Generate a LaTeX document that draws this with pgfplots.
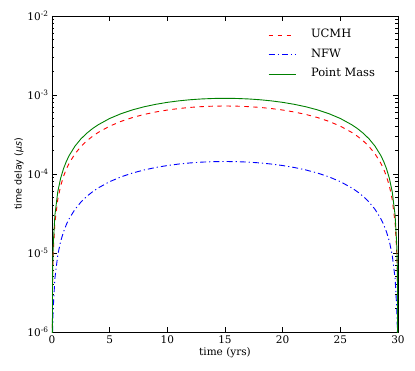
\documentclass[border=0pt]{standalone}
\usepackage{fontspec}
\setmainfont{DejaVu Serif}
\setsansfont{DejaVu Sans}
\usepackage{pgfplots}
\usepackage{pgfplotstable}
\pgfplotsset{compat=1.18}
\pgfplotstableread{
t pm ucmh nfw
0 1e-8 1e-8 1e-8
0.05 6.043e-6 4.832e-6 9.58e-7
0.1 1.207e-5 9.648e-6 1.914e-6
0.25 3.001e-5 2.400e-5 4.760e-6
0.5 5.952e-5 4.759e-5 9.440e-6
0.75 8.853e-5 7.079e-5 1.404e-5
1 1.1703e-4 9.357e-5 1.856e-5
1.25 1.4503e-4 1.1596e-4 2.300e-5
1.5 1.7252e-4 1.3794e-4 2.736e-5
2 2.2599e-4 1.8069e-4 3.584e-5
2.5 2.7744e-4 2.2183e-4 4.400e-5
3 3.2688e-4 2.6136e-4 5.184e-5
3.5 3.7430e-4 2.9927e-4 5.936e-5
4 4.1970e-4 3.3557e-4 6.656e-5
5 5.0444e-4 4.0333e-4 8.000e-5
6 5.8112e-4 4.6464e-4 9.216e-5
7 6.4973e-4 5.1949e-4 1.0304e-4
8 7.1026e-4 5.6789e-4 1.1264e-4
9 7.6272e-4 6.0984e-4 1.2096e-4
10 8.0711e-4 6.4533e-4 1.2800e-4
11 8.4343e-4 6.7437e-4 1.3376e-4
12 8.7168e-4 6.9696e-4 1.3824e-4
13 8.9186e-4 7.1309e-4 1.4144e-4
14 9.0396e-4 7.2277e-4 1.4336e-4
15 9.0800e-4 7.2600e-4 1.4400e-4
16 9.0396e-4 7.2277e-4 1.4336e-4
17 8.9186e-4 7.1309e-4 1.4144e-4
18 8.7168e-4 6.9696e-4 1.3824e-4
19 8.4343e-4 6.7437e-4 1.3376e-4
20 8.0711e-4 6.4533e-4 1.2800e-4
21 7.6272e-4 6.0984e-4 1.2096e-4
22 7.1026e-4 5.6789e-4 1.1264e-4
23 6.4973e-4 5.1949e-4 1.0304e-4
24 5.8112e-4 4.6464e-4 9.216e-5
25 5.0444e-4 4.0333e-4 8.000e-5
26 4.1970e-4 3.3557e-4 6.656e-5
26.5 3.7430e-4 2.9927e-4 5.936e-5
27 3.2688e-4 2.6136e-4 5.184e-5
27.5 2.7744e-4 2.2183e-4 4.400e-5
28 2.2599e-4 1.8069e-4 3.584e-5
28.5 1.7252e-4 1.3794e-4 2.736e-5
28.75 1.4503e-4 1.1596e-4 2.300e-5
29 1.1703e-4 9.357e-5 1.856e-5
29.25 8.853e-5 7.079e-5 1.404e-5
29.5 5.952e-5 4.759e-5 9.440e-6
29.75 3.001e-5 2.400e-5 4.760e-6
29.9 1.207e-5 9.648e-6 1.914e-6
29.95 6.043e-6 4.832e-6 9.58e-7
30 1e-8 1e-8 1e-8
}\datatable
\pgfplotsset{longlegend/.style={legend image code/.code={\draw[##1] (0pt,0pt) -- (27pt,0pt);}}}
\begin{document}
\begin{tikzpicture}
\begin{axis}[
  scale only axis, width=346pt, height=316pt,
  ymode=log, xmin=0, xmax=30, ymin=1e-6, ymax=1e-2,
  xtick={0,5,10,15,20,25,30},
  ytick={1e-6,1e-5,1e-4,1e-3,1e-2},
  yticklabels={10\textsuperscript{-6},10\textsuperscript{-5},10\textsuperscript{-4},10\textsuperscript{-3},10\textsuperscript{-2}},
  minor ytick={2e-6,3e-6,4e-6,5e-6,6e-6,7e-6,8e-6,9e-6,2e-5,3e-5,4e-5,5e-5,6e-5,7e-5,8e-5,9e-5,2e-4,3e-4,4e-4,5e-4,6e-4,7e-4,8e-4,9e-4,2e-3,3e-3,4e-3,5e-3,6e-3,7e-3,8e-3,9e-3},
  /pgf/number format/assume math mode=true,
  tick align=inside, xtick pos=both, ytick pos=both,
  major tick length=5pt, minor tick length=2.5pt,
  every tick/.style={black, line width=0.6pt},
  axis line style={line width=0.8pt},
  ticklabel style={font=\fontsize{10.5}{12}\selectfont},
  xlabel={time (yrs)},
  xlabel style={font=\fontsize{10.5}{12}\selectfont, yshift=3pt},
  ylabel={\sffamily time delay (\textit{μs})},
  ylabel style={font=\fontsize{9.5}{11}\selectfont, yshift=-3pt},
  legend style={draw=none, fill=none, at={(0.624,0.9595)}, anchor=north west,
    font=\fontsize{11.5}{13}\selectfont, row sep=7.5pt, inner sep=0pt,
    cells={anchor=west},
    nodes={inner sep=0pt, text height=9pt, text depth=3pt},
    /tikz/every odd column/.append style={column sep=15pt}},
]
\addplot[red, line width=0.9pt, dash pattern=on 4.5pt off 4.5pt, longlegend] table[x=t, y=ucmh] {\datatable};
\addlegendentry{UCMH}
\addplot[blue, line width=0.9pt, dash pattern=on 6pt off 3pt on 1.2pt off 3pt, longlegend] table[x=t, y=nfw] {\datatable};
\addlegendentry{NFW}
\addplot[green!50!black, line width=0.9pt, longlegend] table[x=t, y=pm] {\datatable};
\addlegendentry{Point Mass}
\end{axis}
\path (current axis.south west) ++(-52pt,-38pt) rectangle ++(415pt,370pt);
\end{tikzpicture}
\end{document}
